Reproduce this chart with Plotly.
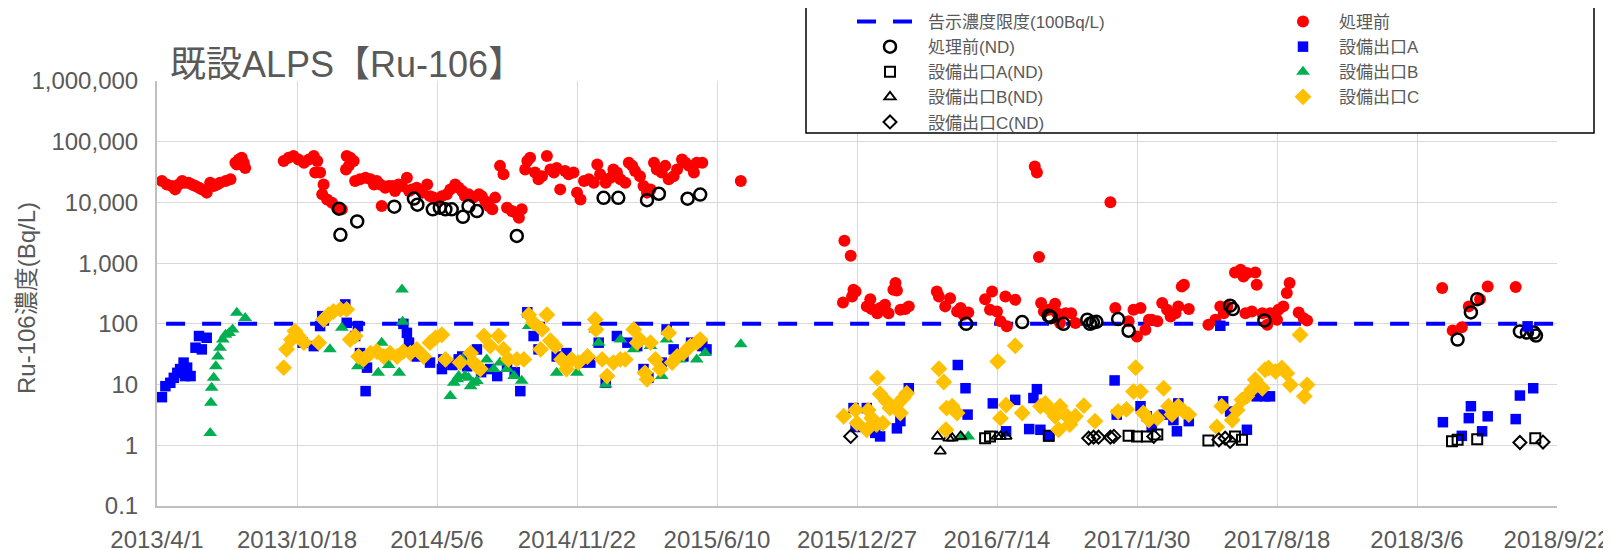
import plotly.graph_objects as go

# ---------------- data ----------------
tick_dates = ["2013-04-01", "2013-10-18", "2014-05-06", "2014-11-22", "2015-06-10",
              "2015-12-27", "2016-07-14", "2017-01-30", "2017-08-18", "2018-03-06", "2018-09-22"]
tick_labels = ["2013/4/1", "2013/10/18", "2014/5/6", "2014/11/22", "2015/6/10",
               "2015/12/27", "2016/7/14", "2017/1/30", "2017/8/18", "2018/3/6", "2018/9/22"]
y_tickvals = [0.1, 1, 10, 100, 1000, 10000, 100000, 1000000]
y_ticktext = ["0.1", "1", "10", "100", "1,000", "10,000", "100,000", "1,000,000"]

limit_dates = ["2013-04-14", "2018-09-22"]
limit_vals = [100, 100]

pre_dates = [
    "2013-04-08", "2013-04-15", "2013-04-22", "2013-04-27", "2013-05-02", "2013-05-07", "2013-05-11", "2013-05-16", "2013-05-21", "2013-05-26",
    "2013-05-31", "2013-06-04", "2013-06-11", "2013-06-16", "2013-06-21", "2013-06-26", "2013-06-30", "2013-07-08", "2013-07-15", "2013-07-22",
    "2013-07-24", "2013-07-27", "2013-07-31", "2013-08-03", "2013-08-05", "2013-09-29", "2013-10-06", "2013-10-13", "2013-10-20", "2013-10-28",
    "2013-11-04", "2013-11-11", "2013-11-16", "2013-11-13", "2013-11-20", "2013-11-25", "2013-11-23", "2013-11-30", "2013-12-07", "2013-12-14",
    "2013-12-21", "2013-12-28", "2014-01-02", "2013-12-31", "2014-01-07", "2013-12-27", "2014-01-09", "2014-01-16", "2014-01-24", "2014-01-31",
    "2014-02-05", "2014-02-09", "2014-02-14", "2014-02-16", "2014-02-21", "2014-02-26", "2014-03-03", "2014-03-07", "2014-03-12", "2014-03-17",
    "2014-03-24", "2014-03-27", "2014-03-31", "2014-04-07", "2014-04-15", "2014-04-22", "2014-04-26", "2014-05-01", "2014-05-08", "2014-05-13",
    "2014-05-20", "2014-05-25", "2014-06-01", "2014-06-06", "2014-06-11", "2014-06-15", "2014-06-20", "2014-06-27", "2014-07-05", "2014-07-09",
    "2014-07-14", "2014-07-19", "2014-07-24", "2014-07-28", "2014-08-04", "2014-08-09", "2014-08-14", "2014-08-21", "2014-08-26", "2014-08-31",
    "2014-09-04", "2014-09-12", "2014-09-16", "2014-09-09", "2014-09-23", "2014-09-28", "2014-10-03", "2014-10-10", "2014-10-15", "2014-10-20",
    "2014-10-24", "2014-10-29", "2014-11-05", "2014-11-10", "2014-11-17", "2014-11-22", "2014-11-27", "2014-12-02", "2014-12-09", "2014-12-16",
    "2014-12-21", "2014-12-25", "2015-01-02", "2015-01-09", "2015-01-13", "2015-01-18", "2015-01-23", "2015-01-30", "2015-02-04", "2015-02-09",
    "2015-02-13", "2015-02-20", "2015-02-25", "2015-03-02", "2015-03-07", "2015-03-12", "2015-03-16", "2015-03-23", "2015-03-28", "2015-04-02",
    "2015-04-09", "2015-04-14", "2015-04-21", "2015-04-26", "2015-05-01", "2015-05-08", "2015-05-12", "2015-05-20", "2015-07-14", "2015-12-09",
    "2015-12-18", "2015-12-07", "2015-12-20", "2015-12-22", "2015-12-25", "2016-01-15", "2016-01-10", "2016-01-17", "2016-01-25", "2016-01-29",
    "2016-02-05", "2016-02-10", "2016-02-17", "2016-02-20", "2016-02-22", "2016-02-27", "2016-03-05", "2016-03-10", "2016-04-19", "2016-04-22",
    "2016-05-01", "2016-05-08", "2016-05-18", "2016-05-23", "2016-05-27", "2016-06-03", "2016-06-27", "2016-07-07", "2016-07-04", "2016-07-14",
    "2016-07-19", "2016-07-28", "2016-07-26", "2016-08-09", "2016-09-06", "2016-09-09", "2016-09-12", "2016-09-15", "2016-09-19", "2016-09-26",
    "2016-10-05", "2016-10-08", "2016-10-12", "2016-10-20", "2016-10-28", "2016-11-03", "2016-12-23", "2016-12-30", "2017-01-18", "2017-01-25",
    "2017-02-04", "2017-01-30", "2017-02-11", "2017-02-16", "2017-02-20", "2017-02-28", "2017-03-07", "2017-03-14", "2017-03-19", "2017-03-26",
    "2017-03-30", "2017-04-04", "2017-04-07", "2017-04-14", "2017-05-12", "2017-05-22", "2017-05-29", "2017-06-03", "2017-06-08", "2017-06-19",
    "2017-06-27", "2017-07-01", "2017-07-06", "2017-07-18", "2017-07-20", "2017-07-04", "2017-07-13", "2017-07-28", "2017-08-04", "2017-08-08",
    "2017-08-18", "2017-08-20", "2017-08-27", "2017-09-01", "2017-09-05", "2017-09-18", "2017-09-25", "2017-09-30", "2018-04-11", "2018-04-26",
    "2018-05-09", "2018-05-19", "2018-06-04", "2018-06-15", "2018-07-25",
]
pre_vals = [
    22500, 19800, 18600, 16400, 19800, 22500, 21100, 21100, 19800, 18600,
    17500, 16400, 14500, 21100, 18600, 19800, 21100, 22500, 24000, 45000,
    42000, 51000, 54500, 45000, 37000, 48000, 54500, 58000, 51000, 45000,
    51000, 58000, 48000, 31000, 31000, 19800, 13600, 11200, 9900, 8200,
    7700, 58000, 54500, 40000, 48000, 35000, 22500, 24000, 25500, 24000,
    19800, 22500, 19800, 8700, 17500, 18600, 18600, 15400, 19800, 18600,
    25500, 15400, 16400, 17500, 14500, 19800, 12700, 12000, 11200, 12700,
    13600, 16400, 19800, 17500, 15400, 12700, 13600, 12000, 13600, 12700,
    10500, 8700, 7700, 12000, 40000, 29000, 8200, 7200, 6800, 5600,
    7700, 48000, 54500, 35000, 31000, 24000, 27000, 58000, 35000, 31000,
    37000, 16400, 33000, 29000, 31000, 14500, 11200, 22500, 24000, 21100,
    42000, 29000, 21100, 25500, 35000, 31000, 24000, 21100, 45000, 40000,
    33000, 27000, 18600, 14500, 16400, 45000, 35000, 31000, 40000, 24000,
    27000, 35000, 51000, 45000, 40000, 31000, 45000, 45000, 22500, 2330,
    1320, 225, 283, 364, 342, 255, 194, 175, 150, 182,
    206, 150, 364, 469, 355, 171, 175, 194, 342, 283,
    194, 265, 160, 182, 141, 154, 255, 342, 171, 160,
    110, 91, 283, 249, 39200, 31200, 1260, 220, 160, 171,
    214, 150, 103, 150, 150, 103, 10100, 182, 110, 171,
    182, 62, 80, 117, 117, 110, 220, 171, 132, 150,
    194, 413, 441, 175, 97, 117, 194, 150, 194, 703,
    778, 604, 686, 703, 441, 150, 160, 150, 97, 150,
    117, 171, 194, 321, 469, 154, 124, 114, 388, 78,
    88, 194, 255, 413, 403,
]

pre_nd_dates = [
    "2013-12-17", "2013-12-19", "2014-01-12", "2014-03-06", "2014-04-03", "2014-04-08", "2014-04-30", "2014-05-10", "2014-05-18", "2014-05-27",
    "2014-06-12", "2014-06-20", "2014-07-02", "2014-08-28", "2014-12-30", "2015-01-20", "2015-03-02", "2015-03-19", "2015-04-29", "2015-05-17",
    "2016-05-31", "2016-08-19", "2016-09-26", "2016-09-29", "2016-10-17", "2016-11-20", "2016-11-24", "2016-11-28", "2016-12-03", "2017-01-03",
    "2017-01-18", "2017-06-12", "2017-06-16", "2017-07-31", "2018-05-03", "2018-05-22", "2018-05-31", "2018-07-31", "2018-08-10", "2018-08-20",
    "2018-08-23",
]
pre_nd_vals = [
    7870, 2930, 4860, 8500, 11600, 9200, 7700, 8200, 7700, 7700,
    5800, 8700, 7200, 2800, 11900, 11900, 10900, 13900, 11500, 13500,
    100, 107, 136, 129, 100, 117, 100, 105, 108, 120,
    77, 199, 175, 114, 55, 154, 255, 75, 72, 72,
    64,
]

a_dates = [
    "2013-04-08", "2013-04-13", "2013-04-20", "2013-04-25", "2013-04-30", "2013-05-04", "2013-05-09", "2013-05-14", "2013-05-19", "2013-05-11",
    "2013-05-26", "2013-05-31", "2013-06-04", "2013-06-11", "2013-10-26", "2013-11-11", "2013-11-20", "2013-11-23", "2013-12-26", "2013-12-28",
    "2014-01-13", "2014-01-09", "2014-01-16", "2014-01-26", "2014-01-24", "2014-03-19", "2014-03-24", "2014-03-27", "2014-04-07", "2014-04-26",
    "2014-05-13", "2014-05-15", "2014-06-06", "2014-06-11", "2014-07-02", "2014-07-21", "2014-07-31", "2014-08-14", "2014-09-02", "2014-09-12",
    "2014-09-21", "2014-09-28", "2014-10-24", "2014-11-07", "2014-11-27", "2014-12-11", "2014-12-23", "2015-01-02", "2015-01-18", "2015-02-02",
    "2015-02-16", "2015-02-25", "2015-03-04", "2015-03-23", "2015-03-30", "2015-04-09", "2015-04-23", "2015-05-04", "2015-05-20", "2015-05-26",
    "2015-12-22", "2016-01-10", "2015-12-25", "2016-01-22", "2016-01-29", "2016-02-22", "2016-02-27", "2016-03-10", "2016-05-19", "2016-05-30",
    "2016-06-02", "2016-07-08", "2016-07-27", "2016-08-09", "2016-08-29", "2016-09-04", "2016-09-09", "2016-09-14", "2016-09-26", "2016-12-29",
    "2017-01-01", "2017-02-04", "2017-02-13", "2017-02-20", "2017-03-09", "2017-03-23", "2017-03-30", "2017-03-28", "2017-04-14", "2017-05-29",
    "2017-06-02", "2017-06-12", "2017-07-06", "2017-07-20", "2017-08-01", "2017-08-08", "2018-04-12", "2018-05-09", "2018-05-19", "2018-05-22",
    "2018-06-07", "2018-06-15", "2018-07-25", "2018-07-31", "2018-08-19", "2018-08-11", "2014-05-28", "2014-06-18", "2014-07-08", "2014-08-25",
]
a_vals = [
    6.2, 9.4, 10.7, 12.9, 15.6, 18, 23, 19, 13.8, 13.8,
    40.5, 63, 38, 59, 49, 43, 92, 134, 209, 104,
    92, 63, 33, 19, 7.8, 100, 71, 49, 29, 23,
    18, 26, 26, 29, 38, 18, 13.8, 20, 7.8, 155,
    63, 38, 29, 33, 23, 23, 49, 10.7, 63, 49,
    43, 18, 12.9, 23, 81, 38, 29, 49, 43, 38,
    4.1, 4.1, 2.0, 1.6, 1.4, 1.9, 2.5, 8.7, 21, 8.7,
    3.2, 4.9, 1.7, 5.6, 1.85, 6.0, 8.4, 1.8, 1.4, 11.7,
    3.2, 4.4, 3.0, 2.0, 3.2, 2.6, 4.9, 1.7, 2.5, 93,
    5.3, 3.6, 1.8, 6.4, 6.4, 6.4, 2.4, 1.43, 2.8, 4.4,
    1.7, 3.0, 2.7, 6.6, 8.7, 91, 21, 20, 16, 16,
]

a_nd_dates = ["2016-06-27", "2016-07-04", "2016-09-26", "2017-01-18", "2017-01-30", "2017-02-13", "2017-02-28",
              "2017-05-12", "2017-06-19", "2017-06-29", "2018-04-25", "2018-05-03", "2018-05-31", "2018-08-22"]
a_nd_vals = [1.31, 1.4, 1.43, 1.43, 1.4, 1.4, 1.5,
             1.2, 1.4, 1.23, 1.16, 1.23, 1.26, 1.31]

b_dates = [
    "2013-06-16", "2013-06-17", "2013-06-18", "2013-06-21", "2013-06-24", "2013-06-27", "2013-06-30", "2013-07-04", "2013-07-08", "2013-07-13",
    "2013-07-18", "2013-07-24", "2013-08-05", "2013-12-04", "2013-12-21", "2014-01-13", "2014-02-11", "2014-02-16", "2014-02-26", "2014-03-13",
    "2014-03-17", "2014-03-18", "2014-05-25", "2014-05-30", "2014-06-06", "2014-06-11", "2014-06-15", "2014-06-23", "2014-06-27", "2014-07-16",
    "2014-08-04", "2014-08-14", "2014-08-24", "2014-09-04", "2014-09-14", "2014-10-24", "2014-11-22", "2014-12-18", "2014-12-23", "2015-01-02",
    "2015-01-23", "2015-02-11", "2015-03-07", "2015-03-23", "2015-03-30", "2015-04-18", "2015-05-12", "2015-05-24", "2015-07-14", "2014-06-04",
    "2014-06-20", "2014-07-02", "2014-07-26", "2016-05-25", "2016-06-03",
]
b_vals = [
    1.6, 5.0, 8.9, 12.9, 20, 29, 40.5, 55, 66, 71,
    81, 152, 125, 38, 86, 20, 15.6, 49, 21, 15.6,
    369, 108, 6.5, 10.7, 13.8, 26, 13.8, 9.4, 10.7, 26,
    23, 18, 13.8, 11.6, 92, 15.6, 15.6, 81, 49, 10,
    55, 38, 43, 13.8, 55, 26, 26, 33, 46, 12.2,
    12.9, 11.5, 18, 1.36, 1.4,
]

b_nd_dates = ["2016-04-20", "2016-04-24", "2016-05-06", "2016-05-11", "2016-05-23", "2016-07-14", "2016-07-19", "2016-07-27"]
b_nd_vals = [1.4, 0.8, 1.31, 1.31, 1.4, 1.4, 1.4, 1.4]

c_dates = [
    "2013-09-29", "2013-10-03", "2013-10-10", "2013-10-15", "2013-10-20", "2013-10-28", "2013-11-18", "2013-11-25", "2013-12-02", "2013-12-09",
    "2013-12-19", "2013-12-28", "2014-01-02", "2014-01-09", "2014-01-14", "2014-01-21", "2014-01-31", "2014-02-09", "2014-02-19", "2014-02-28",
    "2014-03-10", "2014-03-19", "2014-03-29", "2014-04-07", "2014-04-17", "2014-04-26", "2014-05-04", "2014-05-13", "2014-05-18", "2014-06-23",
    "2014-06-27", "2014-07-07", "2014-07-12", "2014-07-21", "2014-08-02", "2014-08-09", "2014-08-16", "2014-08-28", "2014-09-07", "2014-09-14",
    "2014-09-21", "2014-07-02", "2014-06-08", "2014-10-10", "2014-10-03", "2014-10-01", "2014-10-15", "2014-10-22", "2014-10-31", "2014-11-07",
    "2014-11-14", "2014-11-24", "2014-12-07", "2014-12-18", "2014-12-19", "2014-12-28", "2015-01-04", "2015-01-13", "2015-01-23", "2015-01-30",
    "2015-02-11", "2015-02-16", "2015-02-20", "2015-02-27", "2015-03-02", "2015-03-07", "2015-03-14", "2015-03-21", "2015-04-02", "2015-04-07",
    "2015-04-14", "2015-04-23", "2015-05-03", "2015-05-12", "2015-05-17", "2015-12-08", "2015-12-25", "2015-12-27", "2016-01-12", "2016-01-17",
    "2016-01-25", "2016-01-29", "2016-02-07", "2016-02-12", "2016-02-20", "2016-02-27", "2016-03-02", "2016-03-07", "2016-01-10", "2016-01-24",
    "2016-02-02", "2016-04-22", "2016-04-29", "2016-05-03", "2016-05-11", "2016-05-18", "2016-05-02", "2016-07-15", "2016-08-09", "2016-07-19",
    "2016-07-27", "2016-08-19", "2016-09-14", "2016-09-21", "2016-09-28", "2016-10-05", "2016-10-12", "2016-10-10", "2016-10-22", "2016-10-26",
    "2016-11-03", "2016-11-15", "2016-12-01", "2017-01-03", "2017-01-15", "2017-01-28", "2017-01-25", "2017-02-04", "2017-02-08", "2017-02-16",
    "2017-02-28", "2017-03-09", "2017-03-16", "2017-03-21", "2017-03-30", "2017-04-07", "2017-04-14", "2017-05-24", "2017-05-31", "2017-06-15",
    "2017-06-22", "2017-06-29", "2017-07-06", "2017-07-13", "2017-07-18", "2017-07-28", "2017-08-01", "2017-08-06", "2017-08-16", "2017-08-25",
    "2017-09-01", "2017-09-06", "2017-09-20", "2017-09-26", "2017-09-30",
]
c_vals = [
    19, 38, 55, 76, 63, 49, 49, 118, 141, 160,
    173, 173, 55, 63, 29, 26, 33, 35, 29, 33,
    29, 35, 33, 38, 29, 49, 59, 66, 26, 33,
    23, 18, 63, 43, 63, 38, 26, 26, 26, 141,
    104, 20, 23, 141, 81, 38, 53, 43, 26, 18,
    26, 23, 29, 118, 81, 26, 13.8, 23, 26, 26,
    81, 49, 55, 15.6, 12.2, 49, 26, 18, 71, 23,
    29, 33, 43, 49, 55, 3.0, 3.8, 2.3, 3.8, 2.8,
    12.8, 7.0, 5.3, 4.1, 4.4, 3.4, 6.0, 7.2, 1.8, 2.2,
    2.3, 18.2, 11, 4.1, 4.4, 3.4, 1.8, 24, 43.5, 2.8,
    4.6, 3.4, 4.4, 4.9, 3.8, 3.0, 4.4, 1.8, 3.0, 2.2,
    3.0, 4.5, 2.5, 3.6, 3.9, 19, 7.7, 7.7, 3.4, 2.6,
    2.8, 8.7, 4.4, 3.2, 4.4, 3.6, 3.2, 2.0, 4.4, 2.6,
    3.8, 5.6, 6.4, 8.2, 12, 8.7, 17.5, 18.7, 16.4, 18.7,
    15.4, 9.9, 66, 6.4, 9.9,
]

c_nd_dates = ["2015-12-18", "2016-11-22", "2016-11-29", "2016-12-06", "2016-12-23", "2016-12-28",
              "2017-02-23", "2017-05-27", "2017-06-05", "2017-06-12", "2018-07-31", "2018-09-02"]
c_nd_vals = [1.4, 1.31, 1.36, 1.36, 1.36, 1.4,
             1.4, 1.23, 1.31, 1.16, 1.11, 1.13]

# ---------------- figure ----------------
FONT = "Liberation Sans, Arial, Noto Sans CJK JP, sans-serif"
GREY = "#595959"

fig = go.Figure()

fig.add_trace(go.Scatter(x=limit_dates, y=limit_vals, mode="lines", name="告示濃度限度(100Bq/L)",
                         line=dict(color="#0000ff", width=4, dash="19px,17px"), legend="legend"))
fig.add_trace(go.Scatter(x=pre_dates, y=pre_vals, mode="markers", name="処理前",
                         marker=dict(symbol="circle", size=12, color="#ff0000"), legend="legend2"))
fig.add_trace(go.Scatter(x=pre_nd_dates, y=pre_nd_vals, mode="markers", name="処理前(ND)",
                         marker=dict(symbol="circle-open", size=12, color="#000000", line=dict(width=2.5)),
                         legend="legend"))
fig.add_trace(go.Scatter(x=a_dates, y=a_vals, mode="markers", name="設備出口A",
                         marker=dict(symbol="square", size=10.5, color="#0000ff"), legend="legend2"))
fig.add_trace(go.Scatter(x=a_nd_dates, y=a_nd_vals, mode="markers", name="設備出口A(ND)",
                         marker=dict(symbol="square-open", size=10, color="#000000", line=dict(width=2)),
                         legend="legend"))
fig.add_trace(go.Scatter(x=b_dates, y=b_vals, mode="markers", name="設備出口B",
                         marker=dict(symbol="triangle-up", size=12, color="#00b050"), legend="legend2"))
fig.add_trace(go.Scatter(x=b_nd_dates, y=b_nd_vals, mode="markers", name="設備出口B(ND)",
                         marker=dict(symbol="triangle-up-open", size=10, color="#000000", line=dict(width=1.8)),
                         legend="legend"))
fig.add_trace(go.Scatter(x=c_dates, y=c_vals, mode="markers", name="設備出口C",
                         marker=dict(symbol="diamond", size=13, color="#ffc000"), legend="legend2"))
fig.add_trace(go.Scatter(x=c_nd_dates, y=c_nd_vals, mode="markers", name="設備出口C(ND)",
                         marker=dict(symbol="diamond-open", size=10, color="#000000", line=dict(width=2)),
                         legend="legend"))

# page body has an 8px margin: positions below are measured on the screenshot and shifted by it
OFF = 8
W, H = 1611, 550
L = 157 - OFF
T = 81 - OFF
R = W - (1557 - OFF)
B = H - (506 - OFF)
pw, ph = W - L - R, H - T - B


def px_x(px):
    return (px - OFF - L) / pw


def px_y(py):
    return (H - B - (py - OFF)) / ph


legend_common = dict(
    font=dict(family=FONT, size=17, color=GREY),
    bgcolor="rgba(0,0,0,0)", borderwidth=0, orientation="v",
    xanchor="left", yanchor="top", tracegroupgap=0, traceorder="normal",
)

fig.update_layout(
    width=W, height=H,
    margin=dict(l=L, r=R, t=T, b=B, autoexpand=False),
    paper_bgcolor="white", plot_bgcolor="white",
    font=dict(family=FONT, color=GREY),
    showlegend=True,
    title=dict(text="既設ALPS【Ru-106】", x=(170 - OFF) / W, xref="container", xanchor="left",
               y=1 - (64 - OFF) / H, yref="container", yanchor="middle",
               font=dict(family=FONT, size=36, color=GREY)),
    legend=dict(x=px_x(852), y=px_y(4), itemwidth=66, **legend_common),
    legend2=dict(x=px_x(1267), y=px_y(4), itemwidth=62, **legend_common),
    xaxis=dict(type="date", range=[tick_dates[0], tick_dates[-1]],
               tickmode="array", tickvals=tick_dates, ticktext=tick_labels,
               showgrid=True, gridcolor="#d9d9d9", gridwidth=1.3,
               showline=True, linecolor="#bfbfbf", linewidth=2,
               ticks="", zeroline=False, ticklabelstandoff=11,
               tickfont=dict(family=FONT, size=24, color=GREY)),
    yaxis=dict(type="log", range=[-1, 6],
               tickmode="array", tickvals=y_tickvals, ticktext=y_ticktext,
               showgrid=True, gridcolor="#d9d9d9", gridwidth=1.3,
               showline=True, linecolor="#bfbfbf", linewidth=2,
               ticks="", zeroline=False, ticklabelstandoff=12,
               tickfont=dict(family=FONT, size=24, color=GREY)),
    shapes=[dict(type="rect", xref="paper", yref="paper",
                 x0=px_x(806), x1=px_x(1594), y0=px_y(133), y1=px_y(5),
                 line=dict(color="black", width=1.5), fillcolor="white", layer="above")],
    annotations=[dict(text="Ru-106濃度(Bq/L)", textangle=-90, xref="paper", yref="paper",
                      x=px_x(26), y=px_y(298), xanchor="center", yanchor="middle", showarrow=False,
                      font=dict(family=FONT, size=24, color=GREY))],
)

fig.write_html("out.html", config={"displayModeBar": False})
